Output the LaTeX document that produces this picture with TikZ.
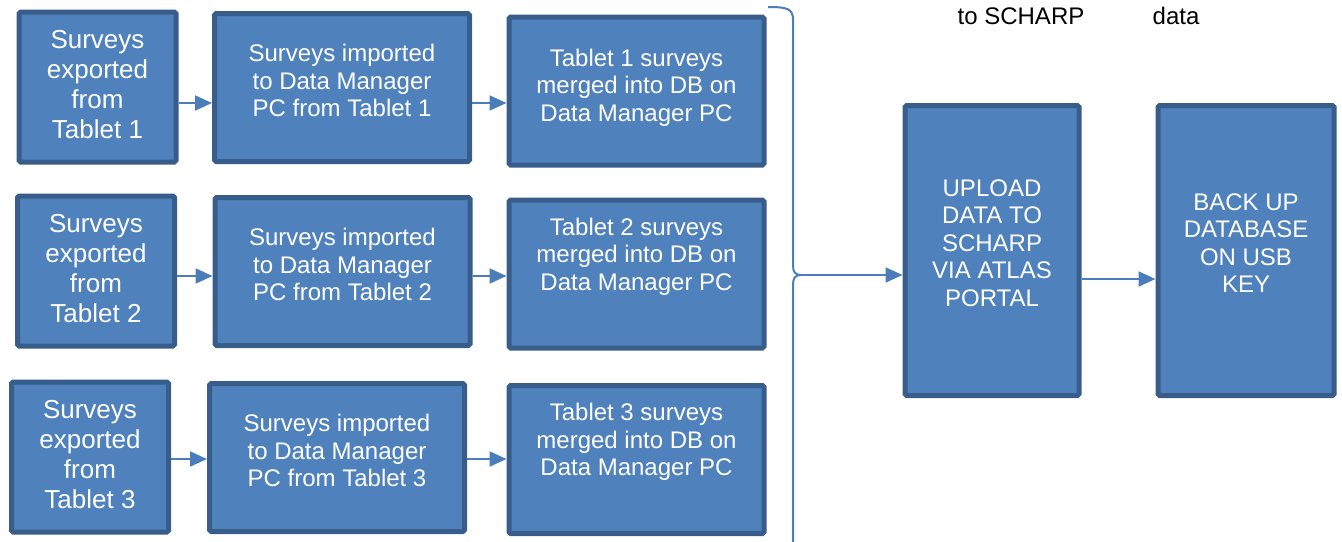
\documentclass[tikz,border=0pt]{standalone}
\usepackage{fontspec}
\setmainfont{Liberation Sans}
\usetikzlibrary{arrows.meta}

\definecolor{boxfill}{HTML}{4F81BD}
\definecolor{boxline}{HTML}{385D8A}
\definecolor{flowline}{HTML}{4A7EBB}

% lines of a box, with optional extra room below to lift the text
\newcommand{\boxlines}[2][0pt]{\begin{tabular}{@{}c@{}}#2\\[#1]\end{tabular}}

\tikzset{
    procbox/.style={draw=boxline, fill=boxfill, line width=2.5pt, rounded corners=0.8pt,
        text=white, inner sep=0pt, font=\fontsize{12}{13.75}\selectfont},
    srcbox/.style={procbox, minimum width=78.5pt, minimum height=75pt,
        font=\fontsize{13}{15}\selectfont},
    midbox/.style={procbox, minimum width=127.5pt, minimum height=74pt},
    tallbox/.style={procbox, minimum width=87pt, minimum height=145pt},
    flow/.style={draw=flowline, line width=1pt, -{Triangle[length=8.5pt,width=7.5pt]}},
    brace/.style={draw=flowline, line width=1pt},
    toplabel/.style={anchor=base, inner sep=0pt, font=\fontsize{12}{13.75}\selectfont},
}

\begin{document}
\begin{tikzpicture}[x=0.5pt, y=-0.5pt]
    \useasboundingbox (0,0) rectangle (1342,541);

    % Tablet 1
    \node[srcbox] (exp1) at (97.5,87) {\boxlines{Surveys\\exported\\from\\Tablet 1}};
    \node[midbox] (imp1) at (342,87.5) {\boxlines[4pt]{Surveys imported\\to Data Manager\\PC from Tablet 1}};
    \node[midbox] (mrg1) at (636.5,91) {\boxlines[3pt]{Tablet 1 surveys\\merged into DB on\\Data Manager PC}};

    % Tablet 2
    \node[srcbox] (exp2) at (96,271) {\boxlines{Surveys\\exported\\from\\Tablet 2}};
    \node[midbox] (imp2) at (342.5,271.5) {\boxlines[4pt]{Surveys imported\\to Data Manager\\PC from Tablet 2}};
    \node[midbox] (mrg2) at (636.5,274) {\boxlines[17pt]{Tablet 2 surveys\\merged into DB on\\Data Manager PC}};

    % Tablet 3
    \node[srcbox] (exp3) at (90,457) {\boxlines{Surveys\\exported\\from\\Tablet 3}};
    \node[midbox] (imp3) at (337,457.5) {\boxlines[4pt]{Surveys imported\\to Data Manager\\PC from Tablet 3}};
    \node[midbox] (mrg3) at (636.5,459.5) {\boxlines[17pt]{Tablet 3 surveys\\merged into DB on\\Data Manager PC}};

    % Upload and back up
    \node[tallbox] (upload) at (992,250.5) {\boxlines[5pt]{UPLOAD\\DATA TO\\SCHARP\\VIA ATLAS\\PORTAL}};
    \node[tallbox, minimum width=88pt] (backup) at (1246,250.5) {\boxlines[4.5pt]{BACK UP\\DATABASE\\ON USB\\KEY}};

    % Labels cut off at the top
    \node[toplabel] (lblscharp) at (1021,24) {to SCHARP};
    \node[toplabel] (lbldata) at (1176,24) {data};

    % Arrow levels, a little below the box centres
    \coordinate (row1) at (0,103);
    \coordinate (row2) at (0,276);
    \coordinate (row3) at (0,459);
    \coordinate (lvl) at (0,279);

    \foreach \i in {1,2,3}{
        \draw[flow] (exp\i.east |- row\i) -- (imp\i.west |- row\i);
        \draw[flow] (imp\i.east |- row\i) -- (mrg\i.west |- row\i);
    }

    % Brace gathering the three merges (lower end runs off the page)
    \coordinate (tip) at (801,275);
    \draw[brace] (768,7) .. controls (788,7) and (793,9) .. (793,20)
        -- (793,265) .. controls (793,272) and (795,275) .. (tip)
        .. controls (795,275) and (793,278) .. (793,285)
        -- (793,545) .. controls (793,556) and (788,558) .. (768,558);

    \draw[flow] (tip) -- (tip -| upload.west);
    \draw[flow] (upload.east |- lvl) -- (backup.west |- lvl);
\end{tikzpicture}
\end{document}
